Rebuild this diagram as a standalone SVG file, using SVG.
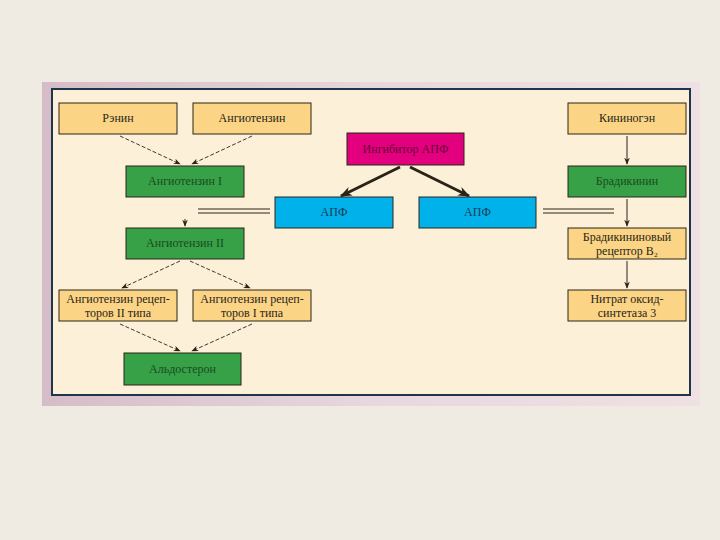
<svg xmlns="http://www.w3.org/2000/svg" width="720" height="540" viewBox="0 0 720 540">
<defs>
<style>
.box{stroke:#2a2418;stroke-width:1}
.o{fill:#fbd585}
.g{fill:#36a146}
.c{fill:#00b1ea}
.m{fill:#e2007e}
text{font-family:"Liberation Serif","DejaVu Serif",serif;font-size:12px;fill:#2a2418;text-anchor:middle}
.gt{fill:#1d4a22}
.mt{fill:#6a0038}
.ct{fill:#1a3a5a}
.dash{stroke:#2a2418;stroke-width:0.9;stroke-dasharray:4 2;fill:none}
.solid{stroke:#2a2418;stroke-width:1;fill:none}
.thick{stroke:#2a2418;stroke-width:3;fill:none}
</style>
<marker id="ah" viewBox="0 0 10 10" refX="9" refY="5" markerWidth="7" markerHeight="7" orient="auto" markerUnits="userSpaceOnUse"><path d="M0,1 L10,5 L0,9 L3,5 z" fill="#2a2418"/></marker>
<marker id="ahb" viewBox="0 0 10 10" refX="9" refY="5" markerWidth="12" markerHeight="12" orient="auto" markerUnits="userSpaceOnUse"><path d="M0,1 L10,5 L0,9 L3,5 z" fill="#2a2418"/></marker>
<linearGradient id="fr" x1="0" y1="0" x2="1" y2="0"><stop offset="0" stop-color="#d6bcc6"/><stop offset="0.5" stop-color="#e6d8dd"/><stop offset="1" stop-color="#efe0e3"/></linearGradient>
</defs>
<rect width="720" height="540" fill="#efebe2"/>
<rect x="42" y="82" width="658" height="324" fill="url(#fr)"/>
<rect x="52" y="89" width="638" height="306" fill="#fdf0d9" stroke="#1e3550" stroke-width="2"/>
<g id="connectors">
<line class="dash" x1="120" y1="136" x2="180" y2="164" marker-end="url(#ah)"/>
<line class="dash" x1="252" y1="136" x2="192" y2="164" marker-end="url(#ah)"/>
<line class="thick" x1="400" y1="167" x2="341" y2="196" marker-end="url(#ahb)"/>
<line class="thick" x1="410" y1="167" x2="469" y2="196" marker-end="url(#ahb)"/>
<line class="solid" x1="198" y1="209" x2="270" y2="209"/>
<line class="solid" x1="198" y1="213" x2="270" y2="213"/>
<line class="solid" x1="543" y1="209" x2="614" y2="209"/>
<line class="solid" x1="543" y1="213" x2="614" y2="213"/>
<line class="solid" x1="185" y1="219" x2="185" y2="226" marker-end="url(#ah)"/>
<line class="solid" x1="627" y1="136" x2="627" y2="164" marker-end="url(#ah)"/>
<line class="solid" x1="627" y1="199" x2="627" y2="226" marker-end="url(#ah)"/>
<line class="solid" x1="627" y1="261" x2="627" y2="288" marker-end="url(#ah)"/>
<line class="dash" x1="180" y1="261" x2="122" y2="288" marker-end="url(#ah)"/>
<line class="dash" x1="190" y1="261" x2="250" y2="288" marker-end="url(#ah)"/>
<line class="dash" x1="120" y1="324" x2="180" y2="351" marker-end="url(#ah)"/>
<line class="dash" x1="252" y1="324" x2="192" y2="351" marker-end="url(#ah)"/>
</g>
<g id="renin"><rect class="box o" x="59" y="103" width="118" height="31"/><text x="118" y="122">Рэнин</text></g>
<g id="angiotensin"><rect class="box o" x="193" y="103" width="118" height="31"/><text x="252" y="122">Ангиотензин</text></g>
<g id="inhibitor"><rect class="box m" x="347" y="133" width="117" height="32"/><text class="mt" x="405.500" y="153">Ингибитор АПФ</text></g>
<g id="kininogen"><rect class="box o" x="568" y="103" width="118" height="31"/><text x="627" y="122">Кининогэн</text></g>
<g id="ang1"><rect class="box g" x="126" y="166" width="118" height="31"/><text class="gt" x="185" y="185">Ангиотензин I</text></g>
<g id="apf1"><rect class="box c" x="275" y="197" width="118" height="31"/><text class="ct" x="334" y="216">АПФ</text></g>
<g id="apf2"><rect class="box c" x="419" y="197" width="117" height="31"/><text class="ct" x="477.500" y="216">АПФ</text></g>
<g id="bradykinin"><rect class="box g" x="568" y="166" width="118" height="31"/><text class="gt" x="627" y="185">Брадикинин</text></g>
<g id="ang2"><rect class="box g" x="126" y="228" width="118" height="31"/><text class="gt" x="185" y="247">Ангиотензин II</text></g>
<g id="bradyreceptor"><rect class="box o" x="568" y="228" width="118" height="31"/><text x="627" y="241">Брадикининовый</text><text x="627" y="255">рецептор B₂</text></g>
<g id="nos3"><rect class="box o" x="568" y="290" width="118" height="31"/><text x="627" y="303">Нитрат оксид-</text><text x="627" y="317">синтетаза 3</text></g>
<g id="at2"><rect class="box o" x="59" y="290" width="118" height="31"/><text x="118" y="303">Ангиотензин рецеп-</text><text x="118" y="317">торов II типа</text></g>
<g id="at1"><rect class="box o" x="193" y="290" width="118" height="31"/><text x="252" y="303">Ангиотензин рецеп-</text><text x="252" y="317">торов I типа</text></g>
<g id="aldosterone"><rect class="box g" x="124" y="353" width="117" height="32"/><text class="gt" x="182.500" y="373">Альдостерон</text></g>
</svg>
